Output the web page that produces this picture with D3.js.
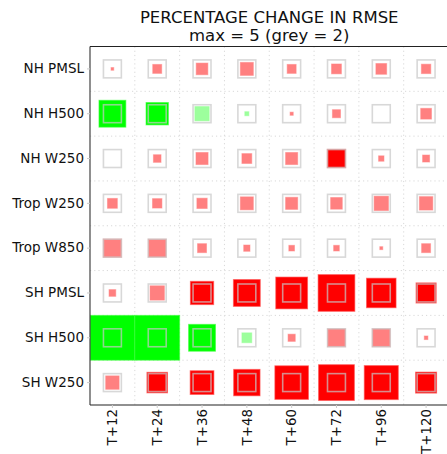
<!DOCTYPE html>
<html><head><meta charset="utf-8">
<script src="https://cdn.jsdelivr.net/npm/d3@7"></script>
<style>body{margin:0;background:#fff}svg{display:block;font-family:"DejaVu Sans",sans-serif}</style>
</head><body><div id="chart"></div>
<script>
const rows = ["NH PMSL","NH H500","NH W250","Trop W250","Trop W850","SH PMSL","SH H500","SH W250"];
const cols = ["T+12","T+24","T+36","T+48","T+60","T+72","T+96","T+120"];
// percentage change in RMSE (rows x cols)
const vNHPMSL  = [0.3, 1.0, 1.3, 1.45, 1.0, 1.1, 1.2, 1.05];
const vNHH500  = [-3.0, -2.5, -1.6, -0.45, 0.35, 0.9, 0.0, 1.2];
const vNHW250  = [0.0, 0.85, 1.35, 1.1, 1.35, 2.05, 0.6, 0.78];
const vTrW250  = [1.1, 1.05, 1.15, 1.45, 1.35, 1.3, 1.6, 1.5];
const vTrW850  = [2.05, 2.0, 1.0, 0.7, 0.63, 0.63, 0.33, 1.0];
const vSHPMSL  = [0.75, 1.6, 2.6, 3.0, 3.55, 4.1, 3.3, 2.25];
const vSHH500  = [-5.6, -5.2, -3.0, -1.1, 0.8, 2.0, 2.0, 0.4];
const vSHW250  = [1.5, 2.3, 2.65, 2.95, 3.75, 4.0, 3.8, 2.35];
// significance flags (1 = significant, strong colour)
const sNHPMSL  = [0,0,0,0,0,0,0,0];
const sNHH500  = [1,1,0,0,0,0,0,0];
const sNHW250  = [0,0,0,0,0,1,0,0];
const sTrW250  = [0,0,0,0,0,0,0,0];
const sTrW850  = [0,0,0,0,0,0,0,0];
const sSHPMSL  = [0,0,1,1,1,1,1,1];
const sSHH500  = [1,1,1,0,0,0,0,0];
const sSHW250  = [0,1,1,1,1,1,1,1];
const maxVal = 5, greyVal = 2;
const values = [vNHPMSL,vNHH500,vNHW250,vTrW250,vTrW850,vSHPMSL,vSHH500,vSHW250];
const sig = [sNHPMSL,sNHH500,sNHW250,sTrW250,sTrW850,sSHPMSL,sSHH500,sSHW250];

const W = 447, H = 454;
const L = 90, T = 46.5, size = 358.5;
const svg = d3.select("#chart").append("svg").attr("width", W).attr("height", H);
const x = d3.scaleBand().domain(cols).range([L, L + size]);
const y = d3.scaleBand().domain(rows).range([T, T + size]);
const bw = x.bandwidth();
const side = d3.scaleLinear().domain([0, maxVal]).range([0, bw]).clamp(true);

svg.append("defs").append("clipPath").attr("id","clip")
  .append("rect").attr("x",L).attr("y",T).attr("width",size).attr("height",size);

// grid lines (dotted) at cell boundaries
const g = svg.append("g");
cols.slice(1).forEach(c => g.append("line").attr("x1", x(c)).attr("x2", x(c)).attr("y1", T).attr("y2", T+size)
  .attr("stroke","#d8d8d8").attr("stroke-width",1).attr("stroke-dasharray","1.2,3"));
rows.slice(1).forEach(r => g.append("line").attr("y1", y(r)).attr("y2", y(r)).attr("x1", L).attr("x2", L+size)
  .attr("stroke","#d8d8d8").attr("stroke-width",1).attr("stroke-dasharray","1.2,3"));

const cells = [];
rows.forEach((r,i) => cols.forEach((c,j) => cells.push({r, c, v: values[i][j], s: sig[i][j]})));

const plot = svg.append("g").attr("clip-path","url(#clip)");
plot.selectAll("rect.fill").data(cells.filter(d => Math.abs(d.v) > 0.01)).join("rect")
  .attr("class","fill")
  .attr("x", d => x(d.c) + bw/2 - side(Math.abs(d.v))/2)
  .attr("y", d => y(d.r) + bw/2 - side(Math.abs(d.v))/2)
  .attr("width", d => side(Math.abs(d.v)))
  .attr("height", d => side(Math.abs(d.v)))
  .attr("fill", d => d.v > 0 ? (d.s ? "#ff0000" : "#ff8080") : (d.s ? "#00ff00" : "#9dff9d"))
  .attr("stroke", d => d.v > 0 ? (d.s ? "rgba(255,80,80,0.6)" : "rgba(255,128,128,0.5)") : (d.s ? "rgba(60,255,60,0.6)" : "rgba(150,255,150,0.5)"))
  .attr("stroke-width", 1);

const gs = side(greyVal);
plot.selectAll("rect.grey").data(cells).join("rect")
  .attr("class","grey")
  .attr("x", d => x(d.c) + bw/2 - gs/2)
  .attr("y", d => y(d.r) + bw/2 - gs/2)
  .attr("width", gs).attr("height", gs)
  .attr("fill","none").attr("stroke","rgb(200,200,200)").attr("stroke-opacity",0.7).attr("stroke-width",1.6);

// axes frame
svg.append("line").attr("x1",L).attr("x2",L).attr("y1",T).attr("y2",T+size).attr("stroke","#444").attr("stroke-width",1.2);
svg.append("line").attr("x1",L).attr("x2",W).attr("y1",T).attr("y2",T).attr("stroke","#222").attr("stroke-width",1.2);
svg.append("line").attr("x1",L).attr("x2",W).attr("y1",T+size).attr("y2",T+size).attr("stroke","#222").attr("stroke-width",1.2);

// y axis labels
const yAxis = d3.axisLeft(y).tickSize(3).tickPadding(3);
const ya = svg.append("g").attr("transform",`translate(${L},0)`).call(yAxis);
ya.select(".domain").remove();
ya.selectAll("line").attr("stroke","#ccc");
ya.selectAll("text").attr("font-size",13.5).attr("font-family","DejaVu Sans").attr("fill","#111");

// x axis labels
const xAxis = d3.axisBottom(x).tickSize(3).tickPadding(3);
const xa = svg.append("g").attr("transform",`translate(0,${T+size})`).call(xAxis);
xa.select(".domain").remove();
xa.selectAll("line").attr("stroke","#ccc");
xa.selectAll("text").attr("font-size",13.4).attr("font-family","DejaVu Sans").attr("fill","#111")
  .attr("transform","rotate(-90)").attr("text-anchor","end").attr("dy","0.35em").attr("y",0).attr("x",-4);

// title
svg.append("text").attr("x", L + size/2).attr("y", 22.5).attr("text-anchor","middle")
  .attr("font-size",16.5).attr("fill","#111").text("PERCENTAGE CHANGE IN RMSE");
svg.append("text").attr("x", L + size/2).attr("y", 40.5).attr("text-anchor","middle")
  .attr("font-size",16.5).attr("fill","#111").text(`max = ${maxVal} (grey = ${greyVal})`);
</script></body></html>
